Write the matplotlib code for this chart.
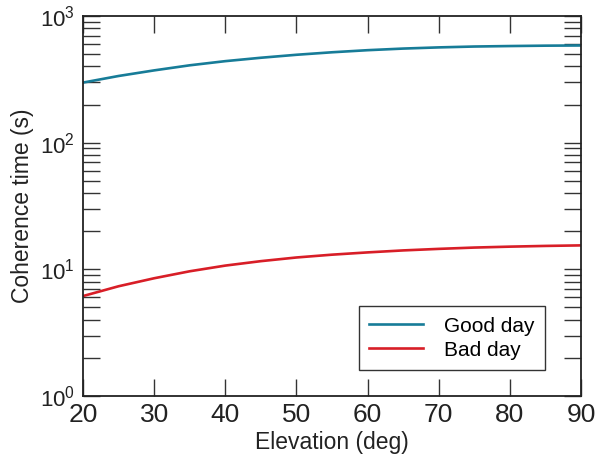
import matplotlib
matplotlib.use("Agg")
import matplotlib.pyplot as plt
from matplotlib.ticker import FixedLocator, LogLocator, NullFormatter, NullLocator

plt.rcParams["font.family"] = ["Liberation Sans", "DejaVu Sans"]
plt.rcParams["mathtext.default"] = "regular"

# Coherence time versus elevation angle
elevation = [20, 25, 30, 35, 40, 45, 50, 55, 60, 65, 70, 75, 80, 85, 90]
good_day = [298, 336, 372, 408, 440, 468, 494, 517, 537, 553, 565, 574, 579, 583, 585]
bad_day = [6.15, 7.35, 8.5, 9.65, 10.7, 11.6, 12.4, 13.05, 13.6, 14.1, 14.5, 14.85, 15.1, 15.3, 15.45]

x_ticks = [20, 30, 40, 50, 60, 70, 80, 90]
y_ticks = [1, 10, 100, 1000]
y_tick_labels = ["10$^{0}$", "10$^{1}$", "10$^{2}$", "10$^{3}$"]

fig = plt.figure(figsize=(6.02, 4.62), dpi=100)
ax = fig.add_axes([0.1379, 0.1429, 0.9651 - 0.1379, 0.9654 - 0.1429])

ax.plot(elevation, good_day, color="#177c98", lw=1.9, label="Good day")
ax.plot(elevation, bad_day, color="#d81e27", lw=1.9, label="Bad day")

ax.set_yscale("log")
ax.set_xlim(20, 90)
ax.set_ylim(1, 1000)

ax.xaxis.set_major_locator(FixedLocator(x_ticks))
ax.xaxis.set_minor_locator(NullLocator())
ax.set_xticklabels([str(t) for t in x_ticks])
ax.yaxis.set_major_locator(FixedLocator(y_ticks))
ax.set_yticklabels(y_tick_labels)
ax.yaxis.set_minor_locator(LogLocator(base=10, subs=range(2, 10), numticks=20))
ax.yaxis.set_minor_formatter(NullFormatter())

ax.tick_params(which="both", direction="in", top=True, right=True,
               length=12.5, width=1.0, color="#333333")
ax.tick_params(axis="x", labelsize=19, pad=5, labelcolor="#222222")
ax.tick_params(axis="y", labelsize=16, pad=6, labelcolor="#222222")

for s in ax.spines.values():
    s.set_linewidth(1.3)
    s.set_color("#222222")

ax.set_xlabel("Elevation (deg)", fontsize=16.5, labelpad=3, color="#222222")
ax.set_ylabel("Coherence time (s)", fontsize=16.5, labelpad=4, color="#222222")

leg = ax.legend(loc="lower right", bbox_to_anchor=(0.928, 0.068), borderaxespad=0,
                fontsize=15, handlelength=2.6, handletextpad=1.0,
                fancybox=False, framealpha=1, edgecolor="#333333",
                borderpad=0.5, labelspacing=0.25)
leg.get_frame().set_linewidth(1.0)

fig.savefig("out.png", dpi=100)
